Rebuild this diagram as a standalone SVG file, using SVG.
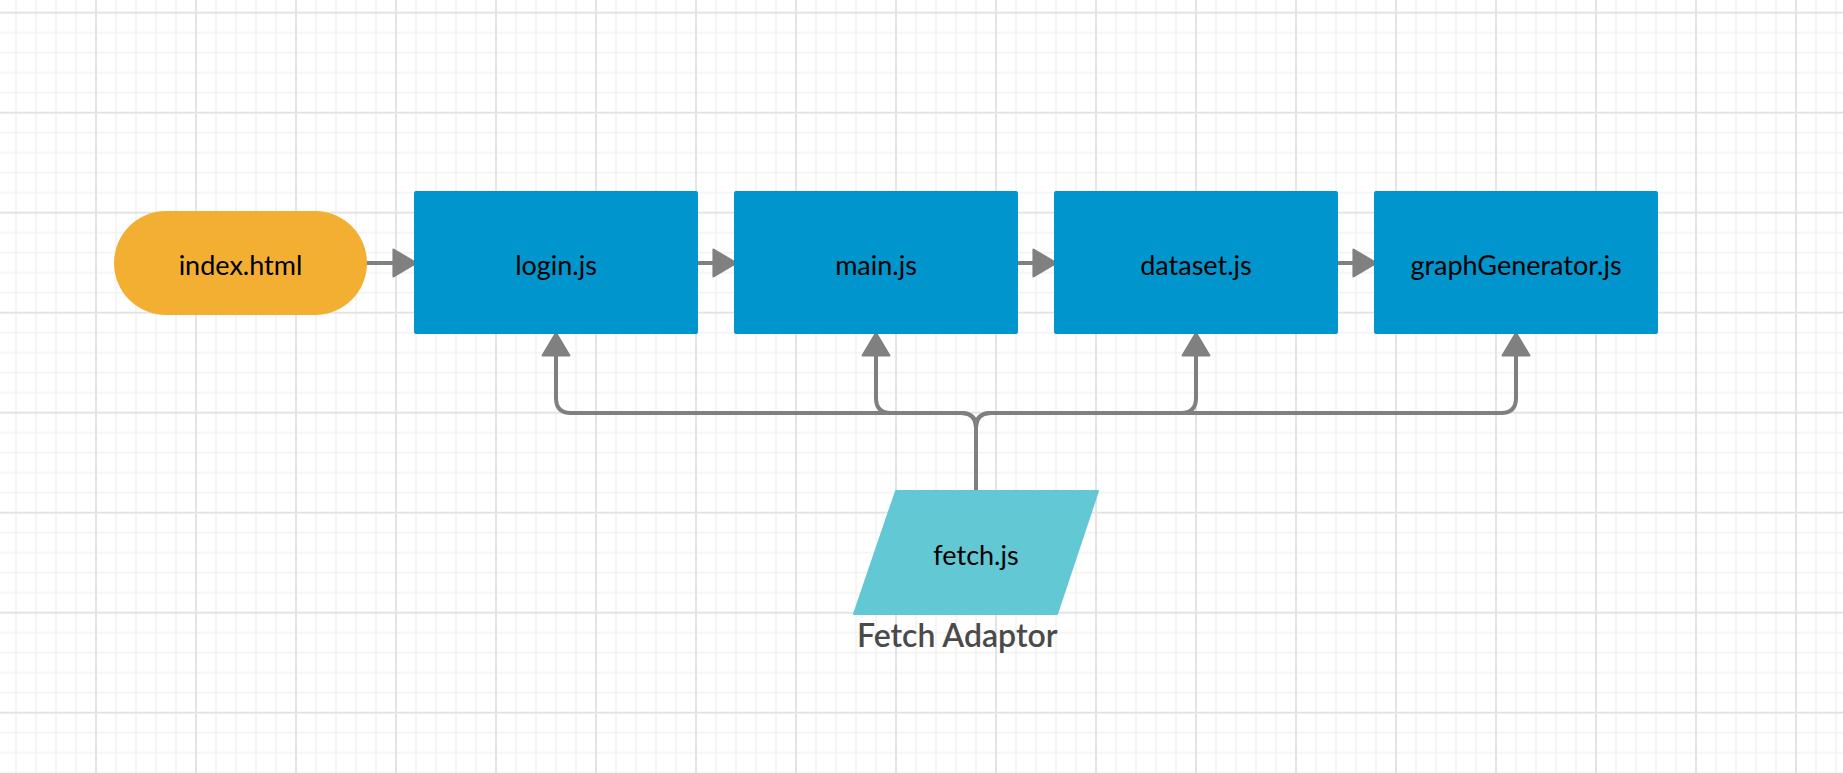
<svg xmlns="http://www.w3.org/2000/svg" width="1843" height="773" viewBox="0 0 1843 773">
  <style>
    .node-text { font-family: Lato, "Open Sans", "Liberation Sans", sans-serif; font-size: 27px; fill: #000000; text-anchor: middle; }
    .label-text { font-family: Lato, "Open Sans", "Liberation Sans", sans-serif; font-size: 32px; font-weight: 600; fill: #4a4a4a; }
    .proc { fill: #0096CD; }
    .conn { fill: none; stroke: #808080; stroke-width: 4; }
  </style>
  <defs>
    <pattern id="grid" patternUnits="userSpaceOnUse" x="6" y="2.7" width="100" height="100">
      <g stroke="#f2f2f2" stroke-width="1.5">
        <line x1="10" y1="0" x2="10" y2="100"/>
        <line x1="30" y1="0" x2="30" y2="100"/>
        <line x1="50" y1="0" x2="50" y2="100"/>
        <line x1="70" y1="0" x2="70" y2="100"/>
        <line x1="0" y1="30" x2="100" y2="30"/>
        <line x1="0" y1="50" x2="100" y2="50"/>
        <line x1="0" y1="70" x2="100" y2="70"/>
        <line x1="0" y1="90" x2="100" y2="90"/>
      </g>
      <g stroke="#e4e4e4" stroke-width="2">
        <line x1="90" y1="0" x2="90" y2="100"/>
        <line x1="0" y1="10" x2="100" y2="10"/>
      </g>
    </pattern>
    <marker id="arrow" markerUnits="userSpaceOnUse" markerWidth="30" markerHeight="34" viewBox="-24 -15 28 30" refX="0" refY="0" orient="auto">
      <path d="M-21,-12.5 L0,0 L-21,12.5 Z" fill="#808080" stroke="#808080" stroke-width="2" stroke-linejoin="round"/>
    </marker>
  </defs>

  <rect x="0" y="0" width="1843" height="773" fill="#ffffff"/>
  <rect x="0" y="0" width="1843" height="773" fill="url(#grid)"/>

  <g id="connectors">
    <path class="conn" d="M364,263 L416,263" marker-end="url(#arrow)"/>
    <path class="conn" d="M694,263 L736,263" marker-end="url(#arrow)"/>
    <path class="conn" d="M1014,263 L1056,263" marker-end="url(#arrow)"/>
    <path class="conn" d="M1334,263 L1376,263" marker-end="url(#arrow)"/>
    <path class="conn" d="M976,494 L976,428 Q976,413 961,413 L571,413 Q556,413 556,398 L556,333" marker-end="url(#arrow)"/>
    <path class="conn" d="M976,494 L976,428 Q976,413 961,413 L891,413 Q876,413 876,398 L876,333" marker-end="url(#arrow)"/>
    <path class="conn" d="M976,494 L976,428 Q976,413 991,413 L1181,413 Q1196,413 1196,398 L1196,333" marker-end="url(#arrow)"/>
    <path class="conn" d="M976,494 L976,428 Q976,413 991,413 L1501,413 Q1516,413 1516,398 L1516,333" marker-end="url(#arrow)"/>
  </g>

  <g id="index-html">
    <rect x="114" y="211" width="253" height="104" rx="52" ry="52" fill="#F3AF31"/>
    <text class="node-text" x="240.5" y="275">index.html</text>
  </g>
  <g id="login-js">
    <rect class="proc" x="414" y="191" width="284" height="143" rx="2"/>
    <text class="node-text" x="556" y="275">login.js</text>
  </g>
  <g id="main-js">
    <rect class="proc" x="734" y="191" width="284" height="143" rx="2"/>
    <text class="node-text" x="876" y="275">main.js</text>
  </g>
  <g id="dataset-js">
    <rect class="proc" x="1054" y="191" width="284" height="143" rx="2"/>
    <text class="node-text" x="1196" y="275">dataset.js</text>
  </g>
  <g id="graphGenerator-js">
    <rect class="proc" x="1374" y="191" width="284" height="143" rx="2"/>
    <text class="node-text" x="1516" y="275">graphGenerator.js</text>
  </g>
  <g id="fetch-js">
    <path d="M896,491 L1098,491 L1057,614 L854,614 Z" fill="#62C8D4" stroke="#62C8D4" stroke-width="2" stroke-linejoin="round"/>
    <text class="node-text" x="976" y="565">fetch.js</text>
    <text class="label-text" x="857" y="647">Fetch Adaptor</text>
  </g>
</svg>
